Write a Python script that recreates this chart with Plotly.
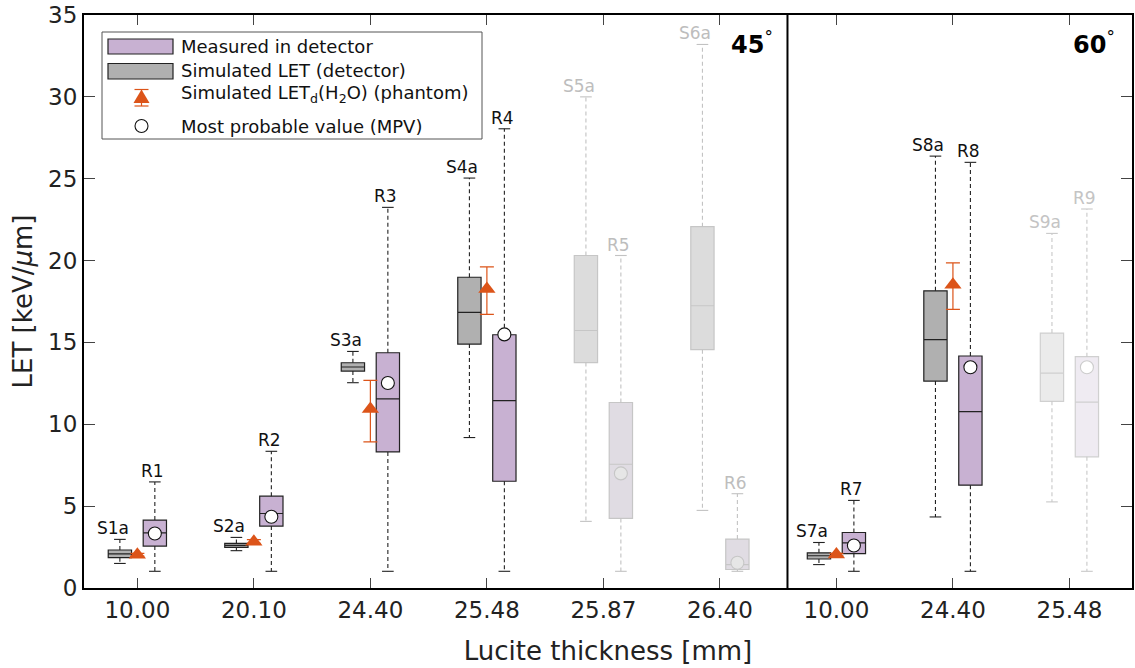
import plotly.graph_objects as go

# ---------------- data ----------------
categories = ["10.00", "20.10", "24.40", "25.48", "25.87", "26.40", "10.00", "24.40", "25.48"]
panel_labels = ["45", "60"]

sim_labels = ["S1a", "S2a", "S3a", "S4a", "S5a", "S6a", "S7a", "S8a", "S9a"]
sim_lo = [1.50, 2.28, 12.54, 9.19, 4.07, 4.74, 1.43, 4.34, 5.26]
sim_q1 = [1.85, 2.48, 13.25, 14.90, 13.77, 14.56, 1.77, 12.64, 11.40]
sim_med = [2.09, 2.60, 13.50, 16.83, 15.73, 17.24, 1.97, 15.17, 13.12]
sim_q3 = [2.32, 2.72, 13.76, 18.98, 20.31, 22.07, 2.15, 18.15, 15.57]
sim_hi = [2.97, 3.09, 14.45, 25.04, 30.00, 33.20, 2.78, 26.38, 21.66]

meas_labels = ["R1", "R2", "R3", "R4", "R5", "R6", "R7", "R8", "R9"]
meas_lo = [1.02, 1.02, 1.02, 1.02, 1.02, 1.02, 1.02, 1.02, 1.02]
meas_q1 = [2.56, 3.78, 8.31, 6.52, 4.25, 1.13, 2.10, 6.28, 8.01]
meas_med = [3.37, 4.55, 11.55, 11.44, 7.56, 1.43, 2.76, 10.77, 11.35]
meas_q3 = [4.15, 5.61, 14.37, 15.47, 11.33, 2.99, 3.39, 14.17, 14.13]
meas_hi = [6.48, 8.35, 23.25, 28.05, 20.31, 5.76, 5.35, 26.00, 23.15]
mpv = [3.33, 4.35, 12.52, 15.49, 7.00, 1.54, 2.60, 13.48, 13.48]

let_groups = [0, 1, 2, 3, 6, 7]
let_val = [2.03, 2.82, 10.94, 18.27, 2.04, 18.53]
let_hi = [2.12, 2.95, 12.68, 19.61, 2.12, 19.86]
let_lo = [1.95, 2.72, 8.92, 16.71, 1.96, 17.02]

# ---------------- presentation ----------------
pos = list(range(len(categories)))
SIM_OFF, MEAS_OFF, BOX_W, CAP = -0.15, 0.15, 0.2, 0.05
DIVIDER = 5.58
FONT = "DejaVu Sans"
ORANGE = "#dc5419"

sets = [
    dict(idx=[0, 1, 2, 3, 6, 7],
         sim_fill="#b0b0b0", sim_edge="#222222", meas_fill="#c8b1d2", meas_edge="#222222",
         wh="#222222", lab="#111111", mpv_fill="white", mpv_edge="#111111"),
    dict(idx=[4, 5],
         sim_fill="#dcdcdc", sim_edge="#c6c6c6", meas_fill="#e0dce3", meas_edge="#c6c6c6",
         wh="#c2c2c2", lab="#bdbdbd", mpv_fill="#e6e6e6", mpv_edge="#c6c6c6"),
    dict(idx=[8],
         sim_fill="#ebebeb", sim_edge="#d0d0d0", meas_fill="#efebf2", meas_edge="#d0d0d0",
         wh="#c8c8c8", lab="#c4c4c4", mpv_fill="white", mpv_edge="#cccccc"),
]

fig = go.Figure()


def add_boxes(idx, off, q1, med, q3, fill, edge):
    fig.add_trace(go.Box(
        x=[pos[i] + off for i in idx],
        q1=[q1[i] for i in idx], median=[med[i] for i in idx], q3=[q3[i] for i in idx],
        lowerfence=[q1[i] for i in idx], upperfence=[q3[i] for i in idx],
        width=BOX_W, whiskerwidth=0, fillcolor=fill,
        line=dict(color=edge, width=1.2), boxpoints=False,
        showlegend=False, hoverinfo="skip"))


def add_whiskers(idx, off, lo, q1, q3, hi, color):
    xs, ys, cx, cy = [], [], [], []
    for i in idx:
        x = pos[i] + off
        xs += [x, x, None, x, x, None]
        ys += [q3[i], hi[i], None, q1[i], lo[i], None]
        cx += [x - CAP, x + CAP, None, x - CAP, x + CAP, None]
        cy += [hi[i], hi[i], None, lo[i], lo[i], None]
    fig.add_trace(go.Scatter(x=xs, y=ys, mode="lines",
                             line=dict(color=color, width=1.1, dash="4px,3px"),
                             showlegend=False, hoverinfo="skip"))
    fig.add_trace(go.Scatter(x=cx, y=cy, mode="lines",
                             line=dict(color=color, width=1.1),
                             showlegend=False, hoverinfo="skip"))


for s in sets:
    add_boxes(s["idx"], SIM_OFF, sim_q1, sim_med, sim_q3, s["sim_fill"], s["sim_edge"])
    add_boxes(s["idx"], MEAS_OFF, meas_q1, meas_med, meas_q3, s["meas_fill"], s["meas_edge"])
for s in sets:
    add_whiskers(s["idx"], SIM_OFF, sim_lo, sim_q1, sim_q3, sim_hi, s["wh"])
    add_whiskers(s["idx"], MEAS_OFF, meas_lo, meas_q1, meas_q3, meas_hi, s["wh"])
for s in sets:
    fig.add_trace(go.Scatter(
        x=[pos[i] + MEAS_OFF for i in s["idx"]], y=[mpv[i] for i in s["idx"]],
        mode="markers",
        marker=dict(symbol="circle", size=13, color=s["mpv_fill"],
                    line=dict(color=s["mpv_edge"], width=1.1)),
        showlegend=False, hoverinfo="skip"))

fig.add_trace(go.Scatter(
    x=[pos[g] for g in let_groups], y=let_val, mode="markers",
    marker=dict(symbol="triangle-up", size=15, color=ORANGE, line=dict(width=0)),
    error_y=dict(type="data", symmetric=False,
                 array=[h - v for h, v in zip(let_hi, let_val)],
                 arrayminus=[v - l for v, l in zip(let_val, let_lo)],
                 color=ORANGE, thickness=1.2, width=7),
    showlegend=False, hoverinfo="skip"))

# labels above whiskers
ann = []
for s in sets:
    for i in s["idx"]:
        ann.append(dict(x=pos[i] + SIM_OFF - 0.06, y=sim_hi[i], text=sim_labels[i], showarrow=False,
                        xanchor="center", yanchor="bottom", yshift=-1,
                        font=dict(family=FONT, size=17, color=s["lab"])))
        ann.append(dict(x=pos[i] + MEAS_OFF - 0.02, y=meas_hi[i], text=meas_labels[i], showarrow=False,
                        xanchor="center", yanchor="bottom", yshift=-1,
                        font=dict(family=FONT, size=17, color=s["lab"])))

# panel angle labels
for xr, t in zip([5.47, 8.41], panel_labels):
    ann.append(dict(x=xr, y=33.3, text="<b>" + t + "</b><sup>°</sup>", showarrow=False,
                    xanchor="right", yanchor="middle",
                    font=dict(family=FONT, size=24, color="black")))

# ---------------- manual legend (pixel -> paper) ----------------
L, T, PW, PH = 84, 15, 1048, 573


def xp(px):
    return (px - L) / PW


def yp(py):
    return (T + PH - py) / PH


shapes = []
shapes.append(dict(type="line", xref="x", yref="y", x0=DIVIDER, x1=DIVIDER, y0=0, y1=35,
                   line=dict(color="black", width=2)))
shapes.append(dict(type="rect", xref="paper", yref="paper", x0=xp(102), x1=xp(482), y0=yp(32), y1=yp(139),
                   line=dict(color="#555555", width=1), fillcolor="white", layer="above"))
shapes.append(dict(type="rect", xref="paper", yref="paper", x0=xp(108), x1=xp(173), y0=yp(39), y1=yp(54),
                   line=dict(color="#222222", width=1.2), fillcolor="#c8b1d2", layer="above"))
shapes.append(dict(type="rect", xref="paper", yref="paper", x0=xp(108), x1=xp(173), y0=yp(63.5), y1=yp(79),
                   line=dict(color="#222222", width=1.2), fillcolor="#b0b0b0", layer="above"))
cx = 141.5
shapes.append(dict(type="path", xref="paper", yref="paper",
                   path=f"M {xp(cx)},{yp(89.5)} L {xp(cx-8)},{yp(103)} L {xp(cx+8)},{yp(103)} Z",
                   line=dict(width=0), fillcolor=ORANGE, layer="above"))
for yy in (89.5, 106):
    shapes.append(dict(type="line", xref="paper", yref="paper", x0=xp(cx - 7), x1=xp(cx + 7), y0=yp(yy), y1=yp(yy),
                       line=dict(color=ORANGE, width=1.2), layer="above"))
shapes.append(dict(type="line", xref="paper", yref="paper", x0=xp(cx), x1=xp(cx), y0=yp(89.5), y1=yp(106),
                   line=dict(color=ORANGE, width=1.2), layer="above"))
shapes.append(dict(type="circle", xref="paper", yref="paper", x0=xp(cx - 6.5), x1=xp(cx + 6.5),
                   y0=yp(119.5), y1=yp(132.5), line=dict(color="#111111", width=1.1),
                   fillcolor="white", layer="above"))

legend_texts = ["Measured in detector", "Simulated LET (detector)",
                "Simulated LET<sub>d</sub>(H<sub>2</sub>O) (phantom)", "Most probable value (MPV)"]
legend_rows = [46, 71, 94, 126]
for t, r in zip(legend_texts, legend_rows):
    ann.append(dict(xref="paper", yref="paper", x=xp(179), y=yp(r), text=t, showarrow=False,
                    xanchor="left", yanchor="middle",
                    font=dict(family=FONT, size=18, color="#111111")))

fig.update_layout(
    width=1135, height=668,
    margin=dict(l=L, r=3, t=T, b=80),
    plot_bgcolor="white", paper_bgcolor="white",
    boxmode="overlay",
    font=dict(family=FONT, color="#222222"),
    shapes=shapes, annotations=ann,
    xaxis=dict(range=[-0.458, 8.537], tickmode="array", tickvals=pos, ticktext=categories,
               showgrid=False, zeroline=False, ticks="inside", ticklen=10, tickwidth=1,
               tickcolor="#444444", showline=True, linewidth=2, linecolor="black",
               mirror="allticks", automargin=False,
               tickfont=dict(family=FONT, size=23, color="#222222"),
               title=dict(text="Lucite thickness [mm]", font=dict(family=FONT, size=26, color="#222222"),
                          standoff=20)),
    yaxis=dict(range=[0, 35], tickmode="array", tickvals=[0, 5, 10, 15, 20, 25, 30, 35],
               showgrid=False, zeroline=False, ticks="inside", ticklen=11, tickwidth=1,
               tickcolor="#444444", showline=True, linewidth=2, linecolor="black",
               mirror="allticks", automargin=False,
               tickfont=dict(family=FONT, size=23, color="#222222"),
               title=dict(text="LET [keV/<i>μ</i>m]", font=dict(family=FONT, size=26, color="#222222"),
                          standoff=8)),
)

fig.write_html("out.html", config={"displayModeBar": False},
               post_script="document.body.style.margin='0';document.body.style.padding='0';")
